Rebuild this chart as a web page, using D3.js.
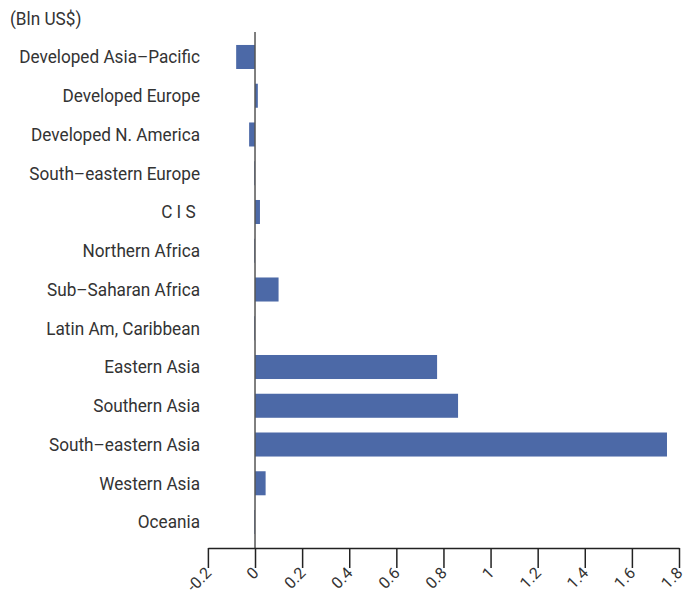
<!DOCTYPE html>
<html><head><meta charset="utf-8">
<script src="https://cdn.jsdelivr.net/npm/d3@7"></script>
<style>body{margin:0;background:#fff}svg{display:block}text{font-family:Roboto,"Liberation Sans",sans-serif}</style>
</head><body>
<svg id="c" width="683" height="596"></svg>
<script>
const categories = ["Developed Asia\u2013Pacific","Developed Europe","Developed N. America","South\u2013eastern Europe","C I S ","Northern Africa","Sub\u2013Saharan Africa","Latin Am, Caribbean","Eastern Asia","Southern Asia","South\u2013eastern Asia","Western Asia","Oceania"];
const values = [-0.08, 0.012, -0.025, -0.003, 0.021, -0.003, 0.10, -0.003, 0.773, 0.862, 1.749, 0.045, -0.003];
const tickValues = [-0.2,0,0.2,0.4,0.6,0.8,1,1.2,1.4,1.6,1.8];
const unitLabel = "(Bln US$)";

const sx = 0.955;
const svg = d3.select("#c");
const x = d3.scaleLinear().domain([-0.2,1.8]).range([207.9,679]);
const y = d3.scaleBand().domain(categories).range([37.6,541.4]).paddingInner(0.38).paddingOuter(0.19);

const tg = svg.append("g").attr("transform",`scale(${sx},1)`);
tg.append("text").attr("x",10/sx).attr("y",25).attr("font-size",18).attr("fill","#333").text(unitLabel);

tg.append("g").selectAll("text").data(categories).join("text")
  .attr("x",200/sx).attr("y",d=>y(d)+y.bandwidth()/2).attr("dy","0.36em")
  .attr("text-anchor","end").attr("font-size",18).attr("fill","#333")
  .style("white-space","pre").text(d=>d);

svg.append("g").selectAll("rect").data(values).join("rect")
  .attr("x",d=>x(Math.min(0,d))).attr("width",d=>Math.abs(x(d)-x(0)))
  .attr("y",(d,i)=>y(categories[i])).attr("height",y.bandwidth())
  .attr("fill","#4c69a7");

svg.append("line").attr("x1",x(0)).attr("x2",x(0)).attr("y1",32).attr("y2",548)
  .attr("stroke","#555").attr("stroke-width",1.5);

const ax = svg.append("g").attr("transform","translate(0,548)")
  .call(d3.axisBottom(x).tickValues(tickValues).tickSize(20).tickSizeOuter(0).tickFormat(d=>String(d)));
ax.select(".domain").attr("stroke","#222").attr("stroke-width",1.5);
ax.selectAll(".tick line").attr("stroke","#222").attr("stroke-width",1.5);
ax.selectAll(".tick text").attr("font-size",16).attr("fill","#333")
  .attr("text-anchor","end").attr("dy",null).attr("y",0)
  .attr("transform","translate(4,26) rotate(-45)");
</script>
</body></html>
